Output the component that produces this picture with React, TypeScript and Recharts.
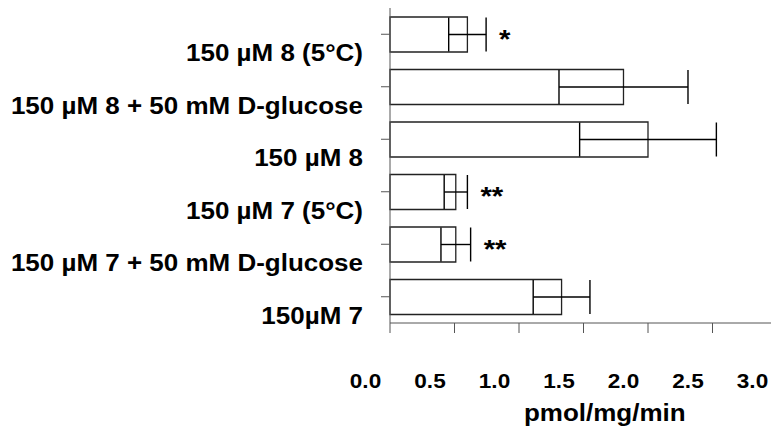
import React from "react";
import { BarChart, Bar, XAxis, YAxis, ErrorBar, LabelList, Label } from "recharts";

// top to bottom, as drawn
const CATEGORIES = [
  "150 µM 8 (5°C)",
  "150 µM 8 + 50 mM D-glucose",
  "150 µM 8 ",
  "150 µM 7 (5°C)",
  "150 µM 7 + 50 mM D-glucose",
  "150µM 7",
];
const VALUES = [0.6, 1.81, 2.0, 0.51, 0.51, 1.33];
const ERRORS = [0.145, 0.5, 0.53, 0.09, 0.115, 0.22];
const STARS = ["*", "", "", "**", "**", ""];
const X_TICKS = [0, 0.5, 1, 1.5, 2, 2.5, 3];

const FONT = '"Liberation Sans", Arial, Helvetica, sans-serif';
const STRETCH = 1.13;
const AXIS = "#555";

const data = CATEGORIES.map((name, i) => ({
  name,
  value: VALUES[i],
  err: ERRORS[i],
  star: STARS[i],
}));

function CategoryTick(props: any) {
  const { x, y, payload } = props;
  return (
    <text
      transform={`translate(${x},${y + 27}) scale(${STRETCH},1)`}
      textAnchor="end"
      fontFamily={FONT}
      fontWeight="bold"
      fontSize={23}
      fill="#000"
    >
      {payload.value}
    </text>
  );
}

function ValueTick(props: any) {
  const { x, y, payload } = props;
  return (
    <text
      transform={`translate(${x - 24.5},${y + 53}) scale(${STRETCH},1)`}
      textAnchor="middle"
      fontFamily={FONT}
      fontWeight="bold"
      fontSize={20}
      fill="#000"
    >
      {payload.value.toFixed(1)}
    </text>
  );
}

function StarLabel(props: any) {
  const { x, y, width, height, index } = props;
  const star = STARS[index];
  if (!star) return null;
  const perUnit = width / VALUES[index];
  const end = x + (VALUES[index] + ERRORS[index]) * perUnit;
  return (
    <text
      transform={`translate(${end + 13},${y + height / 2 + 13}) scale(${STRETCH},1)`}
      fontFamily={FONT}
      fontWeight="bold"
      fontSize={26}
      fill="#000"
    >
      {star}
    </text>
  );
}

export default function App() {
  return (
    <div
      style={{
        position: "absolute",
        left: 0,
        top: 0,
        width: 771,
        height: 432,
        overflow: "hidden",
        background: "#fff",
      }}
    >
      <BarChart
        width={778}
        height={432}
        data={data}
        layout="vertical"
        margin={{ top: 8, right: 1, bottom: 0, left: 0 }}
      >
        <XAxis
          type="number"
          domain={[0, 3]}
          ticks={X_TICKS}
          interval={0}
          height={109}
          tickSize={10}
          stroke={AXIS}
          tick={<ValueTick />}
        >
          <Label
            content={(p: any) => {
              const vb = p.viewBox;
              return (
                <text
                  transform={`translate(${vb.x + vb.width * 0.555},${vb.y + 98}) scale(${STRETCH},1)`}
                  textAnchor="middle"
                  fontFamily={FONT}
                  fontWeight="bold"
                  fontSize={23}
                  fill="#000"
                >
                  pmol/mg/min
                </text>
              );
            }}
          />
        </XAxis>
        <YAxis
          type="category"
          dataKey="name"
          width={390}
          tickSize={9}
          tickMargin={18}
          stroke={AXIS}
          interval={0}
          tick={<CategoryTick />}
        />
        <Bar
          dataKey="value"
          fill="#fff"
          stroke="#222"
          strokeWidth={1.3}
          barSize={35}
          isAnimationActive={false}
        >
          <ErrorBar
            dataKey="err"
            direction="x"
            width={17}
            stroke="#000"
            strokeWidth={1.4}
          />
          <LabelList dataKey="star" content={<StarLabel />} />
        </Bar>
      </BarChart>
    </div>
  );
}
